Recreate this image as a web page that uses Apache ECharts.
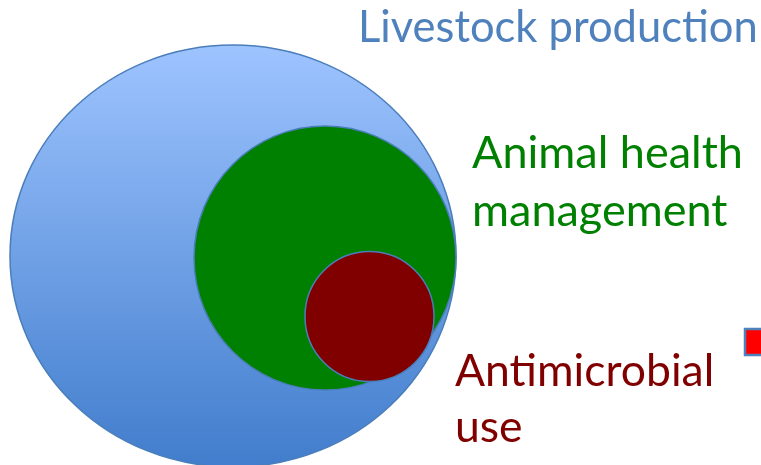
<!DOCTYPE html>
<html>
<head>
<meta charset="utf-8">
<style>html,body{margin:0;padding:0;background:#fff;}#c{width:761px;height:465px;}</style>
<script src="https://cdn.jsdelivr.net/npm/echarts@6/dist/echarts.min.js"></script>
</head>
<body>
<div id="c"></div>
<script>
// Nested sets: name, centre x, centre y, radius x, radius y (diagram units)
var setNames = ['Livestock production', 'Animal health management', 'Antimicrobial use'];
var centerX = [233, 325, 369.5];
var centerY = [256, 258, 316.5];
var radiusX = [223, 131, 64.5];
var radiusY = [211, 132, 65];

var fills = [
  new echarts.graphic.LinearGradient(0, 0, 0, 1, [
    {offset: 0, color: '#9ec4ff'},
    {offset: 1, color: '#417dcc'}
  ]),
  '#008000',
  '#800000'
];

var data = setNames.map(function (n, i) {
  return {name: n, value: [centerX[i], centerY[i], radiusX[i], radiusY[i]]};
});

var chart = echarts.init(document.getElementById('c'), null, {renderer: 'canvas'});
var font = 'Lato';
chart.setOption({
  animation: false,
  backgroundColor: '#ffffff',
  grid: {left: 0, right: 0, top: 0, bottom: 0},
  xAxis: {type: 'value', min: 0, max: 761, show: false},
  yAxis: {type: 'value', min: 0, max: 465, inverse: true, show: false},
  series: [{
    type: 'custom',
    clip: false,
    data: data,
    renderItem: function (params, api) {
      var c = api.coord([api.value(0), api.value(1)]);
      var s = api.size([api.value(2), api.value(3)]);
      return {
        type: 'ellipse',
        shape: {cx: c[0], cy: c[1], rx: Math.abs(s[0]), ry: Math.abs(s[1])},
        style: {fill: fills[params.dataIndex], stroke: '#4a7ebb', lineWidth: 1.5}
      };
    }
  }],
  graphic: [
    {type: 'text', left: 358, top: 6, style: {text: 'Livestock production', font: '43.5px ' + font, fill: '#4f81bd'}},
    {type: 'text', left: 472, top: 131, style: {text: 'Animal health', font: '45px ' + font, fill: '#008000'}},
    {type: 'text', left: 472, top: 189, style: {text: 'management', font: '45px ' + font, fill: '#008000'}},
    {type: 'text', left: 455, top: 349, style: {text: 'Antimicrobial', font: '44.5px ' + font, fill: '#800000'}},
    {type: 'text', left: 455, top: 405, style: {text: 'use', font: '44.5px ' + font, fill: '#800000'}},
    {type: 'rect', shape: {x: 745, y: 329, width: 30, height: 26}, style: {fill: '#ff0000', stroke: '#4f81bd', lineWidth: 2.5}}
  ]
});
</script>
</body>
</html>
